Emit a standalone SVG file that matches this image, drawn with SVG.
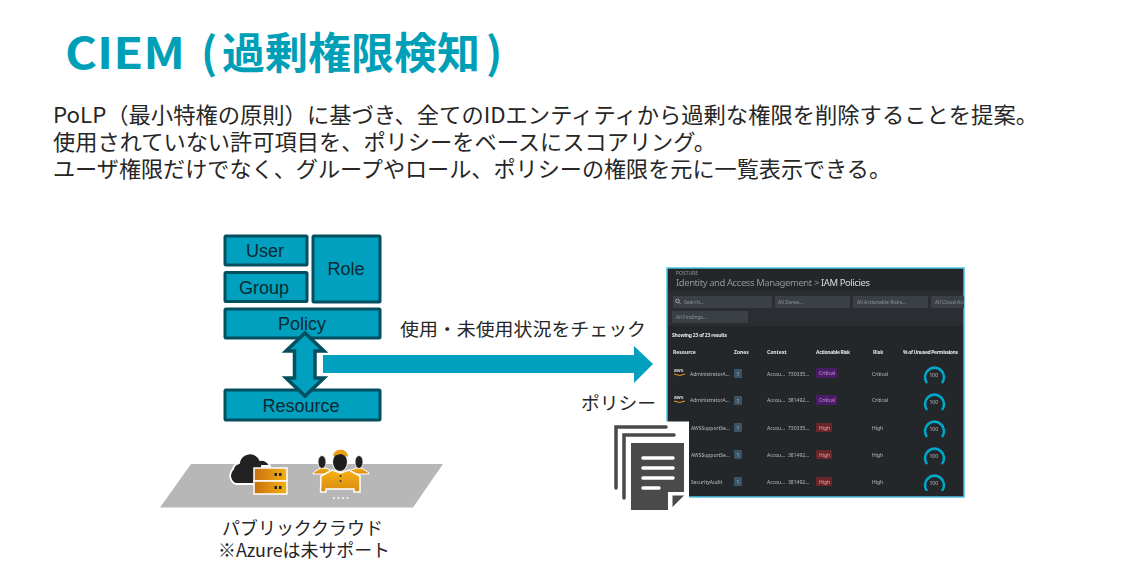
<svg xmlns="http://www.w3.org/2000/svg" width="1130" height="582" viewBox="0 0 1130 582">
<style>
text{font-family:"Liberation Sans","Noto Sans CJK JP",sans-serif;}
.jp{font-family:"Noto Sans CJK JP",sans-serif;fill:#262626;}
.box{fill:#00a0be;stroke:#024f60;stroke-width:3;}
.bl{font-size:18px;fill:#0a2a33;text-anchor:middle;}
.sh{font-family:"Noto Sans","Liberation Sans",sans-serif;fill:#b9bdbf;font-size:5px;}
.hd{font-family:"Noto Sans","Liberation Sans",sans-serif;fill:#e4e7e8;font-size:5px;font-weight:700;}
.fl{fill:#3a4044;}
.flt{font-family:"Noto Sans","Liberation Sans",sans-serif;fill:#8f9599;font-size:5px;}
.z{fill:#3b5566;}
.crit{fill:#4a1f66;}
.high{fill:#6b2629;}
.g{fill:none;stroke:#00a7c8;stroke-width:2.6;}
.ct{font-family:"Noto Sans",sans-serif;font-size:5px;}
</style>
<defs>
<filter id="soft" x="0" y="0" width="1" height="1"><feGaussianBlur stdDeviation="0.35"/></filter>
<linearGradient id="gold" x1="0" y1="0" x2="0" y2="1"><stop offset="0" stop-color="#f5b313"/><stop offset="1" stop-color="#d98a10"/></linearGradient>
<linearGradient id="srv" x1="0" y1="0" x2="1" y2="0"><stop offset="0" stop-color="#c9700f"/><stop offset="1" stop-color="#f3b214"/></linearGradient>
</defs>
<rect width="1130" height="582" fill="#fff"/>
<text y="68.500" font-size="43" font-weight="700" fill="#009fb8" style="font-family:'Noto Sans CJK JP',sans-serif"><tspan x="65" textLength="120" lengthAdjust="spacingAndGlyphs">CIEM</tspan> <tspan x="201">(</tspan><tspan x="222" textLength="258" lengthAdjust="spacingAndGlyphs">過剰権限検知</tspan><tspan x="486">)</tspan></text>
<g id="description">
<text class="jp" x="53" y="122.500" font-size="22" textLength="985" lengthAdjust="spacingAndGlyphs">PoLP（最小特権の原則）に基づき、全てのIDエンティティから過剰な権限を削除することを提案。</text>
<text class="jp" x="53" y="149.500" font-size="22" textLength="663" lengthAdjust="spacingAndGlyphs">使用されていない許可項目を、ポリシーをベースにスコアリング。</text>
<text class="jp" x="53" y="176.500" font-size="22" textLength="838" lengthAdjust="spacingAndGlyphs">ユーザ権限だけでなく、グループやロール、ポリシーの権限を元に一覧表示できる。</text>
</g>
<g id="node-user"><rect class="box" x="225" y="236" width="82" height="29" rx="1"/><text class="bl" x="265" y="257">User</text></g>
<g id="node-group"><rect class="box" x="225" y="272.500" width="82" height="29" rx="1"/><text class="bl" x="264" y="294">Group</text></g>
<g id="node-role"><rect class="box" x="313" y="236" width="67" height="66" rx="1"/><text class="bl" x="346" y="275">Role</text></g>
<g id="node-policy"><rect class="box" x="225" y="309" width="155" height="29" rx="1"/><text class="bl" x="302" y="330">Policy</text></g>
<g id="node-resource"><rect class="box" x="225" y="390" width="155" height="30" rx="1"/><text class="bl" x="301" y="412">Resource</text></g>
<g id="connectors">
<path d="M305 333L324 351H315V378H324L305 396L286 378H294.500V351H286Z" fill="#00a0be" stroke="#024f60" stroke-width="3.500"/>
<path d="M323 355H634V346L653 364L634 383V373H323Z" fill="#00a0be"/>
</g>
<text class="jp" x="400" y="336" font-size="18" textLength="246" lengthAdjust="spacingAndGlyphs">使用・未使用状況をチェック</text>
<g id="node-cloud">
<polygon points="191,464 443,464 413,507.500 160,507.500" fill="#b7b7b7"/>
<path d="M236 484a9 9 0 0 1 -3 -15a8 8 0 0 1 6 -6a11 11 0 0 1 21 -3a9 9 0 0 1 10 6h-8v18Z" fill="#222" stroke="#fff" stroke-width="1.800"/>
<rect x="254" y="468" width="33" height="13" fill="url(#srv)" stroke="#fff" stroke-width="1.500"/>
<rect x="254" y="481" width="33" height="13" fill="url(#srv)" stroke="#fff" stroke-width="1.500"/>
<rect x="274.500" y="473" width="2.500" height="3" fill="#222"/><rect x="279" y="473" width="2.500" height="3" fill="#222"/>
<rect x="274.500" y="486" width="2.500" height="3" fill="#222"/><rect x="279" y="486" width="2.500" height="3" fill="#222"/>
<path d="M313 473l7-5h6l6 3v3h-19Z" fill="url(#gold)" stroke="#fff" stroke-width="1"/>
<path d="M349 471l7-3h6l7 5v1h-20Z" fill="url(#gold)" stroke="#fff" stroke-width="1"/>
<ellipse cx="322" cy="462" rx="4" ry="6.500" fill="#222" stroke="#fff" stroke-width=".8"/>
<ellipse cx="359" cy="462" rx="4" ry="6.500" fill="#222" stroke="#fff" stroke-width=".8"/>
<path d="M321 476l11-6l8.500 3l8.500-3l11 6v16h-6v-3h-28v3h-5.500Z" fill="url(#gold)" stroke="#fff" stroke-width="1.500"/>
<ellipse cx="340" cy="462" rx="7.500" ry="9.500" fill="#1d1d1d" stroke="#fff" stroke-width="1"/>
<path d="M333 455a8 8 0 0 1 15 0l0 2l-7-3l-8 2Z" fill="#e8a012"/>
<circle cx="340.500" cy="476" r="1" fill="#333"/><circle cx="340.500" cy="481" r="1" fill="#333"/>
<path d="M333 498h2M337.500 498h2M342 498h2M346.500 498h2" stroke="#fff" stroke-width="1.600"/>
</g>
<text class="jp" x="222" y="535" font-size="18" textLength="161" lengthAdjust="spacingAndGlyphs">パブリッククラウド</text>
<text class="jp" x="218" y="557" font-size="18" textLength="172" lengthAdjust="spacingAndGlyphs">※Azureは未サポート</text>
<text class="jp" x="581" y="410" font-size="18" textLength="75" lengthAdjust="spacingAndGlyphs">ポリシー</text>
<g id="node-console">
<rect x="667" y="268" width="297" height="229" fill="#24272a" stroke="#4cc3e0" stroke-width="1.500"/>
<g filter="url(#soft)">
<rect x="668" y="291" width="295" height="35" fill="#2a2e31"/>
<text class="flt" x="676" y="275" font-size="3.500">POSTURE</text>
<text x="676" y="286" font-size="9.500" fill="#8d9397" textLength="194" style="font-family:'Noto Sans',sans-serif">Identity and Access Management  &gt;  <tspan fill="#d8dcde">IAM Policies</tspan></text>
<rect class="fl" x="673" y="296" width="99" height="12" rx="1"/><circle cx="677.500" cy="301" r="1.800" fill="none" stroke="#ccc" stroke-width=".7"/><path d="M679 302.500l1.500 1.500" stroke="#ccc" stroke-width=".7"/><text class="flt" x="684" y="304">Search...</text>
<rect class="fl" x="775" y="296" width="75" height="12" rx="1"/><text class="flt" x="778" y="304">All Zones...</text>
<rect class="fl" x="853" y="296" width="75" height="12" rx="1"/><text class="flt" x="857" y="304">All Actionable Risks...</text>
<rect class="fl" x="931" y="296" width="33" height="12" rx="1"/><text class="flt" x="935" y="304">All Cloud Acc</text>
<rect class="fl" x="672" y="311" width="76" height="12" rx="1"/><text class="flt" x="676" y="319">All Findings...</text>
<text class="hd" x="672" y="337" textLength="55">Showing 23 of 23 results</text>
<text class="hd" x="673" y="354">Resource</text><text class="hd" x="734" y="354">Zones</text><text class="hd" x="767" y="354">Context</text><text class="hd" x="816" y="354" textLength="34">Actionable Risk</text><text class="hd" x="873" y="354">Risk</text><text class="hd" x="903" y="354" textLength="55">% of Unused Permissions</text>
<g id="row-1"><path d="M674 374q6 3 11 0" fill="none" stroke="#e8982a"/><text x="674" y="372" font-size="5" fill="#ddd" font-weight="700">aws</text><text class="sh" x="690" y="376">AdministratorA...</text><rect class="z" x="734" y="369" width="8" height="9" rx="1"/><text class="sh" x="736.500" y="375.500">1</text><text class="sh" x="767" y="376">Accou...</text><text class="sh" x="788" y="376">730335...</text><rect class="crit" x="816" y="368" width="21" height="10" rx="1"/><text class="ct" x="819" y="375" fill="#d68be0">Critical</text><text class="sh" x="872" y="376">Critical</text><path class="g" d="M927 383a9.500 9.500 0 1 1 15 0"/><text class="sh" x="929.500" y="377">100</text></g>
<g id="row-2"><path d="M674 401q6 3 11 0" fill="none" stroke="#e8982a"/><text x="674" y="399" font-size="5" fill="#ddd" font-weight="700">aws</text><text class="sh" x="690" y="402">AdministratorA...</text><rect class="z" x="734" y="396" width="8" height="9" rx="1"/><text class="sh" x="736.500" y="402.500">1</text><text class="sh" x="767" y="402">Accou...</text><text class="sh" x="788" y="402">381492...</text><rect class="crit" x="816" y="395" width="21" height="10" rx="1"/><text class="ct" x="819" y="402" fill="#d68be0">Critical</text><text class="sh" x="872" y="402">Critical</text><path class="g" d="M927 410a9.500 9.500 0 1 1 15 0"/><text class="sh" x="929.500" y="404">100</text></g>
<g id="row-3"><text class="sh" x="691" y="429.500">AWSSupportSe...</text><rect class="z" x="734" y="423" width="8" height="9" rx="1"/><text class="sh" x="736.500" y="429.500">1</text><text class="sh" x="767" y="429.500">Accou...</text><text class="sh" x="788" y="429.500">730335...</text><rect class="high" x="816" y="423" width="16" height="9" rx="1"/><text class="ct" x="819" y="429.500" fill="#f0a0a0">High</text><text class="sh" x="872" y="429.500">High</text><path class="g" d="M927 437a9.500 9.500 0 1 1 15 0"/><text class="sh" x="929.500" y="431">100</text></g>
<g id="row-4"><text class="sh" x="691" y="457">AWSSupportSe...</text><rect class="z" x="734" y="450" width="8" height="9" rx="1"/><text class="sh" x="736.500" y="456.500">1</text><text class="sh" x="767" y="457">Accou...</text><text class="sh" x="788" y="457">381492...</text><rect class="high" x="816" y="450" width="16" height="9" rx="1"/><text class="ct" x="819" y="456.500" fill="#f0a0a0">High</text><text class="sh" x="872" y="457">High</text><path class="g" d="M927 464a9.500 9.500 0 1 1 15 0"/><text class="sh" x="929.500" y="458">100</text></g>
<g id="row-5"><text class="sh" x="691" y="484">SecurityAudit</text><rect class="z" x="734" y="477" width="8" height="9" rx="1"/><text class="sh" x="736.500" y="483.500">1</text><text class="sh" x="767" y="484">Accou...</text><text class="sh" x="788" y="484">381492...</text><rect class="high" x="816" y="477" width="16" height="9" rx="1"/><text class="ct" x="819" y="483.500" fill="#f0a0a0">High</text><text class="sh" x="872" y="484">High</text><path class="g" d="M927 491a9.500 9.500 0 1 1 15 0"/><text class="sh" x="929.500" y="485">100</text></g>
</g>
</g>
<g id="node-policy-doc">
<path d="M612 421.500H689V511H612Z" fill="#fff"/>
<path d="M666 427H616V488" fill="none" stroke="#4a4a4a" stroke-width="3.500" stroke-linecap="round"/>
<path d="M674 435H624V498" fill="none" stroke="#4a4a4a" stroke-width="3.500" stroke-linecap="round"/>
<path d="M631 443H684V492H668V510H631Z" fill="#4a4a4a"/>
<path d="M672.500 495.500H684L672.500 507Z" fill="#4a4a4a"/>
<path d="M643 458H673M643 468H673M643 478H673M643 488H659" stroke="#fff" stroke-width="3.500" stroke-linecap="round"/>
</g>
</svg>
